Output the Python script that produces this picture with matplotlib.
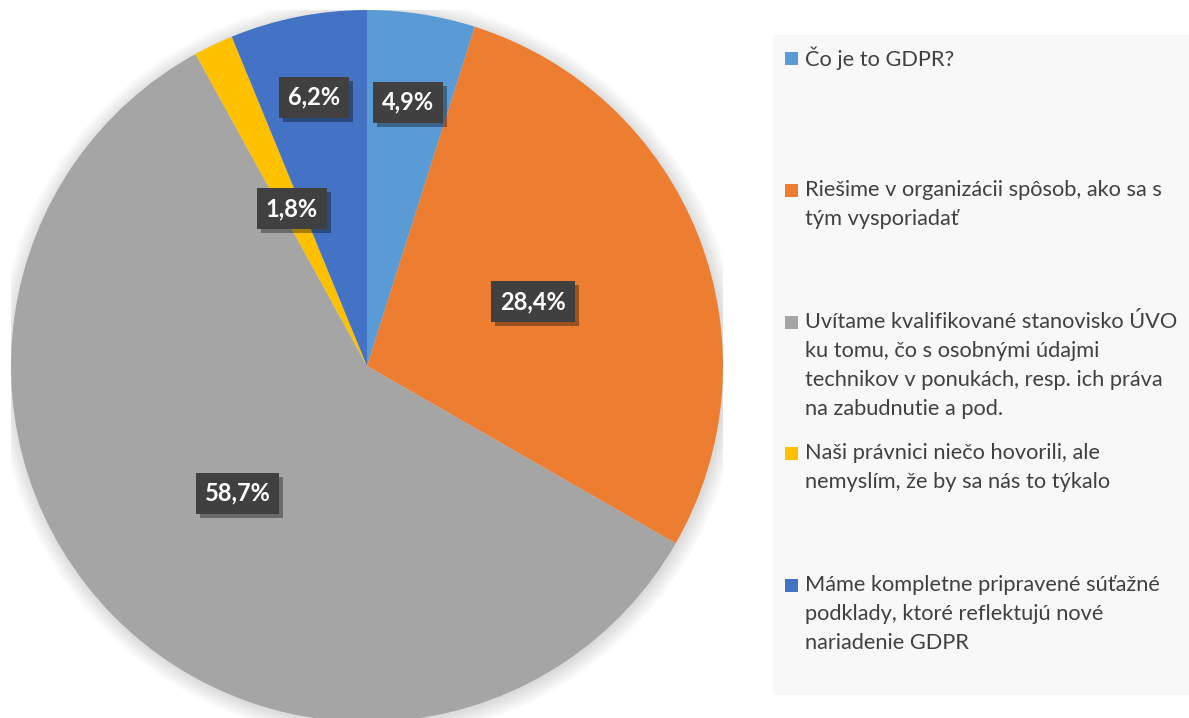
import matplotlib
matplotlib.use("Agg")
import matplotlib.pyplot as plt
import matplotlib.patheffects as pe
from matplotlib.patches import Rectangle, Circle
import numpy as np

# ---- data ----
categories = [
    "Čo je to GDPR?",
    "Riešime v organizácii spôsob, ako sa s\ntým vysporiadať",
    "Uvítame kvalifikované stanovisko ÚVO\nku tomu, čo s osobnými údajmi\ntechnikov v ponukách, resp. ich práva\nna zabudnutie a pod.",
    "Naši právnici niečo hovorili, ale\nnemyslím, že by sa nás to týkalo",
    "Máme kompletne pripravené súťažné\npodklady, ktoré reflektujú nové\nnariadenie GDPR",
]
values = [4.9, 28.4, 58.7, 1.8, 6.2]
value_labels = ["4,9%", "28,4%", "58,7%", "1,8%", "6,2%"]
colors = ["#5B9BD5", "#ED7D31", "#A5A5A5", "#FFC000", "#4472C4"]

# label radial distances (style)
label_dist = [0.75, 0.50, 0.51, 0.49, 0.77]

W, H = 1189, 718
fig = plt.figure(figsize=(W / 100, H / 100), dpi=100)
fig.patch.set_facecolor("white")

# pie axes placement in pixels
cx, cy, r = 367, 366, 356
ax = fig.add_axes([(cx - r) / W, (H - cy - r) / H, 2 * r / W, 2 * r / H])

# soft shadow behind pie
for k in range(12):
    ax.add_patch(Circle((0.004, -0.006), 1.0 + k * 0.004, facecolor="black",
                        alpha=0.012, edgecolor="none", zorder=0))

wedges, _ = ax.pie(values, colors=colors, startangle=90, counterclock=False,
                   radius=1.0, wedgeprops=dict(linewidth=0, zorder=1),
                   labels=None)
for w in wedges:
    w.set_zorder(2)
ax.set_xlim(-1, 1)
ax.set_ylim(-1, 1)
ax.set_aspect("equal")
ax.axis("off")

for w, lab, d in zip(wedges, value_labels, label_dist):
    ang = np.deg2rad((w.theta1 + w.theta2) / 2)
    x, y = d * np.cos(ang), d * np.sin(ang)
    t = ax.text(x, y, lab, ha="center", va="center", color="white",
                fontsize=17, fontweight="bold", family="Lato", zorder=5,
                bbox=dict(boxstyle="square,pad=0.38", facecolor="#404040",
                          edgecolor="none"))
    t.get_bbox_patch().set_path_effects([
        pe.SimplePatchShadow(offset=(3, -3), shadow_rgbFace="black", alpha=0.35),
        pe.Normal()])

# legend area
fig.patches.append(Rectangle((773 / W, 1 - 695 / H), (W - 773) / W, (695 - 35) / H,
                             transform=fig.transFigure, facecolor="#F8F8F8",
                             edgecolor="none", zorder=0))

legend_y = [58, 190, 322, 453, 585]  # first line center (px)
line_h = 29
for cat, col, yy in zip(categories, colors, legend_y):
    fig.patches.append(Rectangle((785 / W, 1 - (yy + 6.5) / H), 13 / W, 13 / H,
                                 transform=fig.transFigure, facecolor=col,
                                 edgecolor="none", zorder=2))
    for i, line in enumerate(cat.split("\n")):
        fig.text(805 / W, 1 - (yy + i * line_h) / H, line, ha="left", va="center",
                 fontsize=15.7, color="#404040", family="Lato")

fig.savefig("out.png", dpi=100)
